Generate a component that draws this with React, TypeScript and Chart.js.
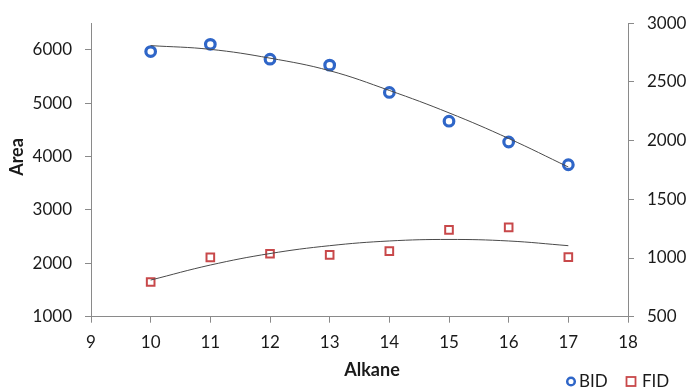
import React, { useEffect, useRef } from "react";
import { Chart, registerables } from "chart.js";

Chart.register(...registerables);

const alkanes = [10, 11, 12, 13, 14, 15, 16, 17];
const bidArea = [5968, 6104, 5826, 5714, 5202, 4664, 4274, 3847];
const fidArea = [796, 1005, 1036, 1027, 1058, 1239, 1261, 1007];
const bidTrend = [6080, 6010, 5845, 5610, 5240, 4820, 4340, 3805];
const fidTrend = [812, 940, 1038, 1105, 1145, 1158, 1145, 1105];
const xTicks = [9, 10, 11, 12, 13, 14, 15, 16, 17, 18];
const leftTicks = [1000, 2000, 3000, 4000, 5000, 6000];
const rightTicks = [500, 1000, 1500, 2000, 2500, 3000];
const xTitle = "Alkane";
const yTitle = "Area";
const seriesNames = ["BID", "FID"];

const FONT = "Lato, 'Open Sans', sans-serif";
const BLUE = "#2f66c8";
const RED = "#c8484a";
const AXIS = "#8a8a8a";
const TEXT = "#1a1a1a";

const extrasPlugin = {
  id: "extras",
  afterDraw(chart: any) {
    const ctx = chart.ctx;
    ctx.save();
    ctx.fillStyle = TEXT;
    ctx.font = `bold 18px ${FONT}`;
    ctx.textAlign = "center";
    ctx.textBaseline = "middle";
    ctx.fillText(xTitle, 372, 370);
    ctx.save();
    ctx.translate(17, 157);
    ctx.rotate(-Math.PI / 2);
    ctx.fillText(yTitle, 0, 0);
    ctx.restore();
    // legend
    ctx.font = `17px ${FONT}`;
    ctx.textAlign = "left";
    ctx.lineWidth = 2.5;
    ctx.strokeStyle = BLUE;
    ctx.beginPath();
    ctx.arc(571, 381.5, 3.8, 0, Math.PI * 2);
    ctx.stroke();
    ctx.fillText(seriesNames[0], 579, 381.5);
    ctx.lineWidth = 1.8;
    ctx.strokeStyle = RED;
    ctx.strokeRect(626.5, 377, 9, 9);
    ctx.fillText(seriesNames[1], 642, 381.5);
    ctx.restore();
  },
};

const setTicks = (arr: number[]) => (s: any) => {
  s.ticks = arr.map((v) => ({ value: v }));
};

export default function App() {
  const ref = useRef<HTMLCanvasElement>(null);
  useEffect(() => {
    if (!ref.current) return;
    const tickFont = { family: FONT, size: 17 };
    const chart = new Chart(ref.current, {
      type: "scatter",
      data: {
        datasets: [
          {
            label: "BID trend",
            type: "line",
            data: alkanes.map((x, i) => ({ x, y: bidTrend[i] })),
            yAxisID: "y",
            borderColor: "#4a4a4a",
            borderWidth: 1,
            pointRadius: 0,
            tension: 0.4,
            fill: false,
          },
          {
            label: "FID trend",
            type: "line",
            data: alkanes.map((x, i) => ({ x, y: fidTrend[i] })),
            yAxisID: "y1",
            borderColor: "#4a4a4a",
            borderWidth: 1,
            pointRadius: 0,
            tension: 0.4,
            fill: false,
          },
          {
            label: seriesNames[0],
            data: alkanes.map((x, i) => ({ x, y: bidArea[i] })),
            yAxisID: "y",
            pointStyle: "circle",
            pointRadius: 4.8,
            pointBorderWidth: 3.2,
            borderColor: BLUE,
            backgroundColor: "rgba(255,255,255,1)",
          },
          {
            label: seriesNames[1],
            data: alkanes.map((x, i) => ({ x, y: fidArea[i] })),
            yAxisID: "y1",
            pointStyle: "rect",
            pointRadius: 5.4,
            pointBorderWidth: 2,
            borderColor: RED,
            backgroundColor: "rgba(255,255,255,1)",
          },
        ],
      },
      options: {
        responsive: false,
        animation: false,
        layout: { padding: { top: 21, left: 0, right: 0, bottom: 0 } },
        plugins: { legend: { display: false }, tooltip: { enabled: false } },
        scales: {
          x: {
            type: "linear",
            position: "bottom",
            min: 9,
            max: 18,
            afterBuildTicks: setTicks(xTicks),
            ticks: { padding: 10, color: TEXT, font: tickFont, callback: (v: any) => String(v) },
            grid: { drawOnChartArea: false, drawTicks: true, tickLength: 6, color: AXIS },
            border: { color: AXIS, width: 1 },
            afterFit: (s: any) => { s.height = 73.3; },
          },
          y: {
            type: "linear",
            position: "left",
            min: 1000,
            max: 6500,
            afterBuildTicks: setTicks(leftTicks),
            ticks: { padding: 13, color: TEXT, font: tickFont, callback: (v: any) => String(v) },
            grid: { drawOnChartArea: false, drawTicks: true, tickLength: 6, color: AXIS },
            border: { color: AXIS, width: 1 },
            afterFit: (s: any) => { s.width = 91; },
          },
          y1: {
            type: "linear",
            position: "right",
            min: 500,
            max: 3000,
            afterBuildTicks: setTicks(rightTicks),
            ticks: { padding: 13, color: TEXT, font: tickFont, callback: (v: any) => String(v) },
            grid: { drawOnChartArea: false, drawTicks: true, tickLength: 6, color: AXIS },
            border: { color: AXIS, width: 1 },
            afterFit: (s: any) => { s.width = 62; },
          },
        },
      },
      plugins: [extrasPlugin],
    });
    return () => chart.destroy();
  }, []);
  return (
    <div style={{ position: "absolute", left: 0, top: 0, width: 690, height: 390, background: "#fff" }}>
      <canvas ref={ref} width={690} height={390} />
    </div>
  );
}
